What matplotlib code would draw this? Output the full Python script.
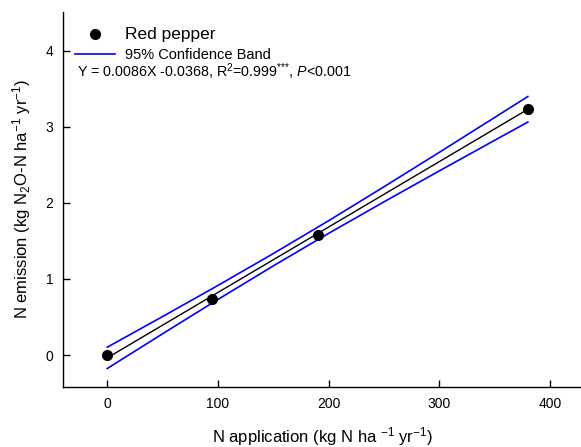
import matplotlib
matplotlib.use("Agg")
from matplotlib import rcParams
rcParams['font.family'] = 'Liberation Sans'
rcParams['mathtext.fontset'] = 'custom'
rcParams['mathtext.rm'] = 'Liberation Sans'
rcParams['mathtext.it'] = 'Liberation Sans:italic'
import matplotlib.pyplot as plt
from matplotlib.lines import Line2D

# measured points
n_rate = [0, 95, 190, 380]
n_emission = [0.0, 0.74, 1.58, 3.24]

# fitted line Y = 0.0086X - 0.0368
fit_x = [0, 380]
fit_y = [-0.037, 3.231]

# 95% confidence band
band_x = [0, 50, 100, 150, 200, 250, 300, 350, 380]
band_upper = [0.103, 0.506, 0.915, 1.334, 1.766, 2.212, 2.665, 3.123, 3.399]
band_lower = [-0.177, 0.280, 0.731, 1.172, 1.600, 2.014, 2.421, 2.823, 3.063]

x_ticks = [0, 100, 200, 300, 400]
y_ticks = [0, 1, 2, 3, 4]

fig = plt.figure(figsize=(5.81, 4.47), dpi=100)
ax = fig.add_axes([0.1084, 0.1342, 0.8916, 0.839])

ax.plot(band_x, band_upper, color="#0000ff", lw=1.2)
ax.plot(band_x, band_lower, color="#0000ff", lw=1.2)
ax.plot(fit_x, fit_y, color="k", lw=1.0)
ax.plot(n_rate, n_emission, "o", color="k", markersize=7, zorder=5)

ax.set_xlim(-40, 428)
ax.set_ylim(-0.42, 4.51)
ax.set_xticks(x_ticks)
ax.set_yticks(y_ticks)
ax.tick_params(direction="in", length=5, width=1, labelsize=10, pad=7)
ax.spines["top"].set_visible(False)
ax.spines["right"].set_visible(False)
for s in ["left", "bottom"]:
    ax.spines[s].set_linewidth(1.0)

ax.set_xlabel("N application (kg N ha $^{-1}$ yr$^{-1}$)", fontsize=12, labelpad=10)
ax.set_ylabel("N emission (kg N$_2$O-N ha$^{-1}$ yr$^{-1}$)", fontsize=12, labelpad=9)

handles = [Line2D([], [], marker="o", color="k", ls="none", markersize=7),
           Line2D([], [], color="#0000ff", lw=1.2)]
leg = ax.legend(handles, ["Red pepper", "95% Confidence Band"], loc="upper left",
                bbox_to_anchor=(0.012, 0.975), frameon=False, handlelength=2.9,
                handletextpad=0.72, labelspacing=0.45, borderaxespad=0)
leg.get_texts()[0].set_fontsize(12.5)
leg.get_texts()[1].set_fontsize(10.5)

fig.text(77 / 581, 1 - 72 / 447,
         "Y = 0.0086X -0.0368, R$^2$=0.999$^{{*}{*}{*}}$, $P$<0.001",
         fontsize=10.3, va="center", ha="left")

fig.savefig("out.png", dpi=100)
